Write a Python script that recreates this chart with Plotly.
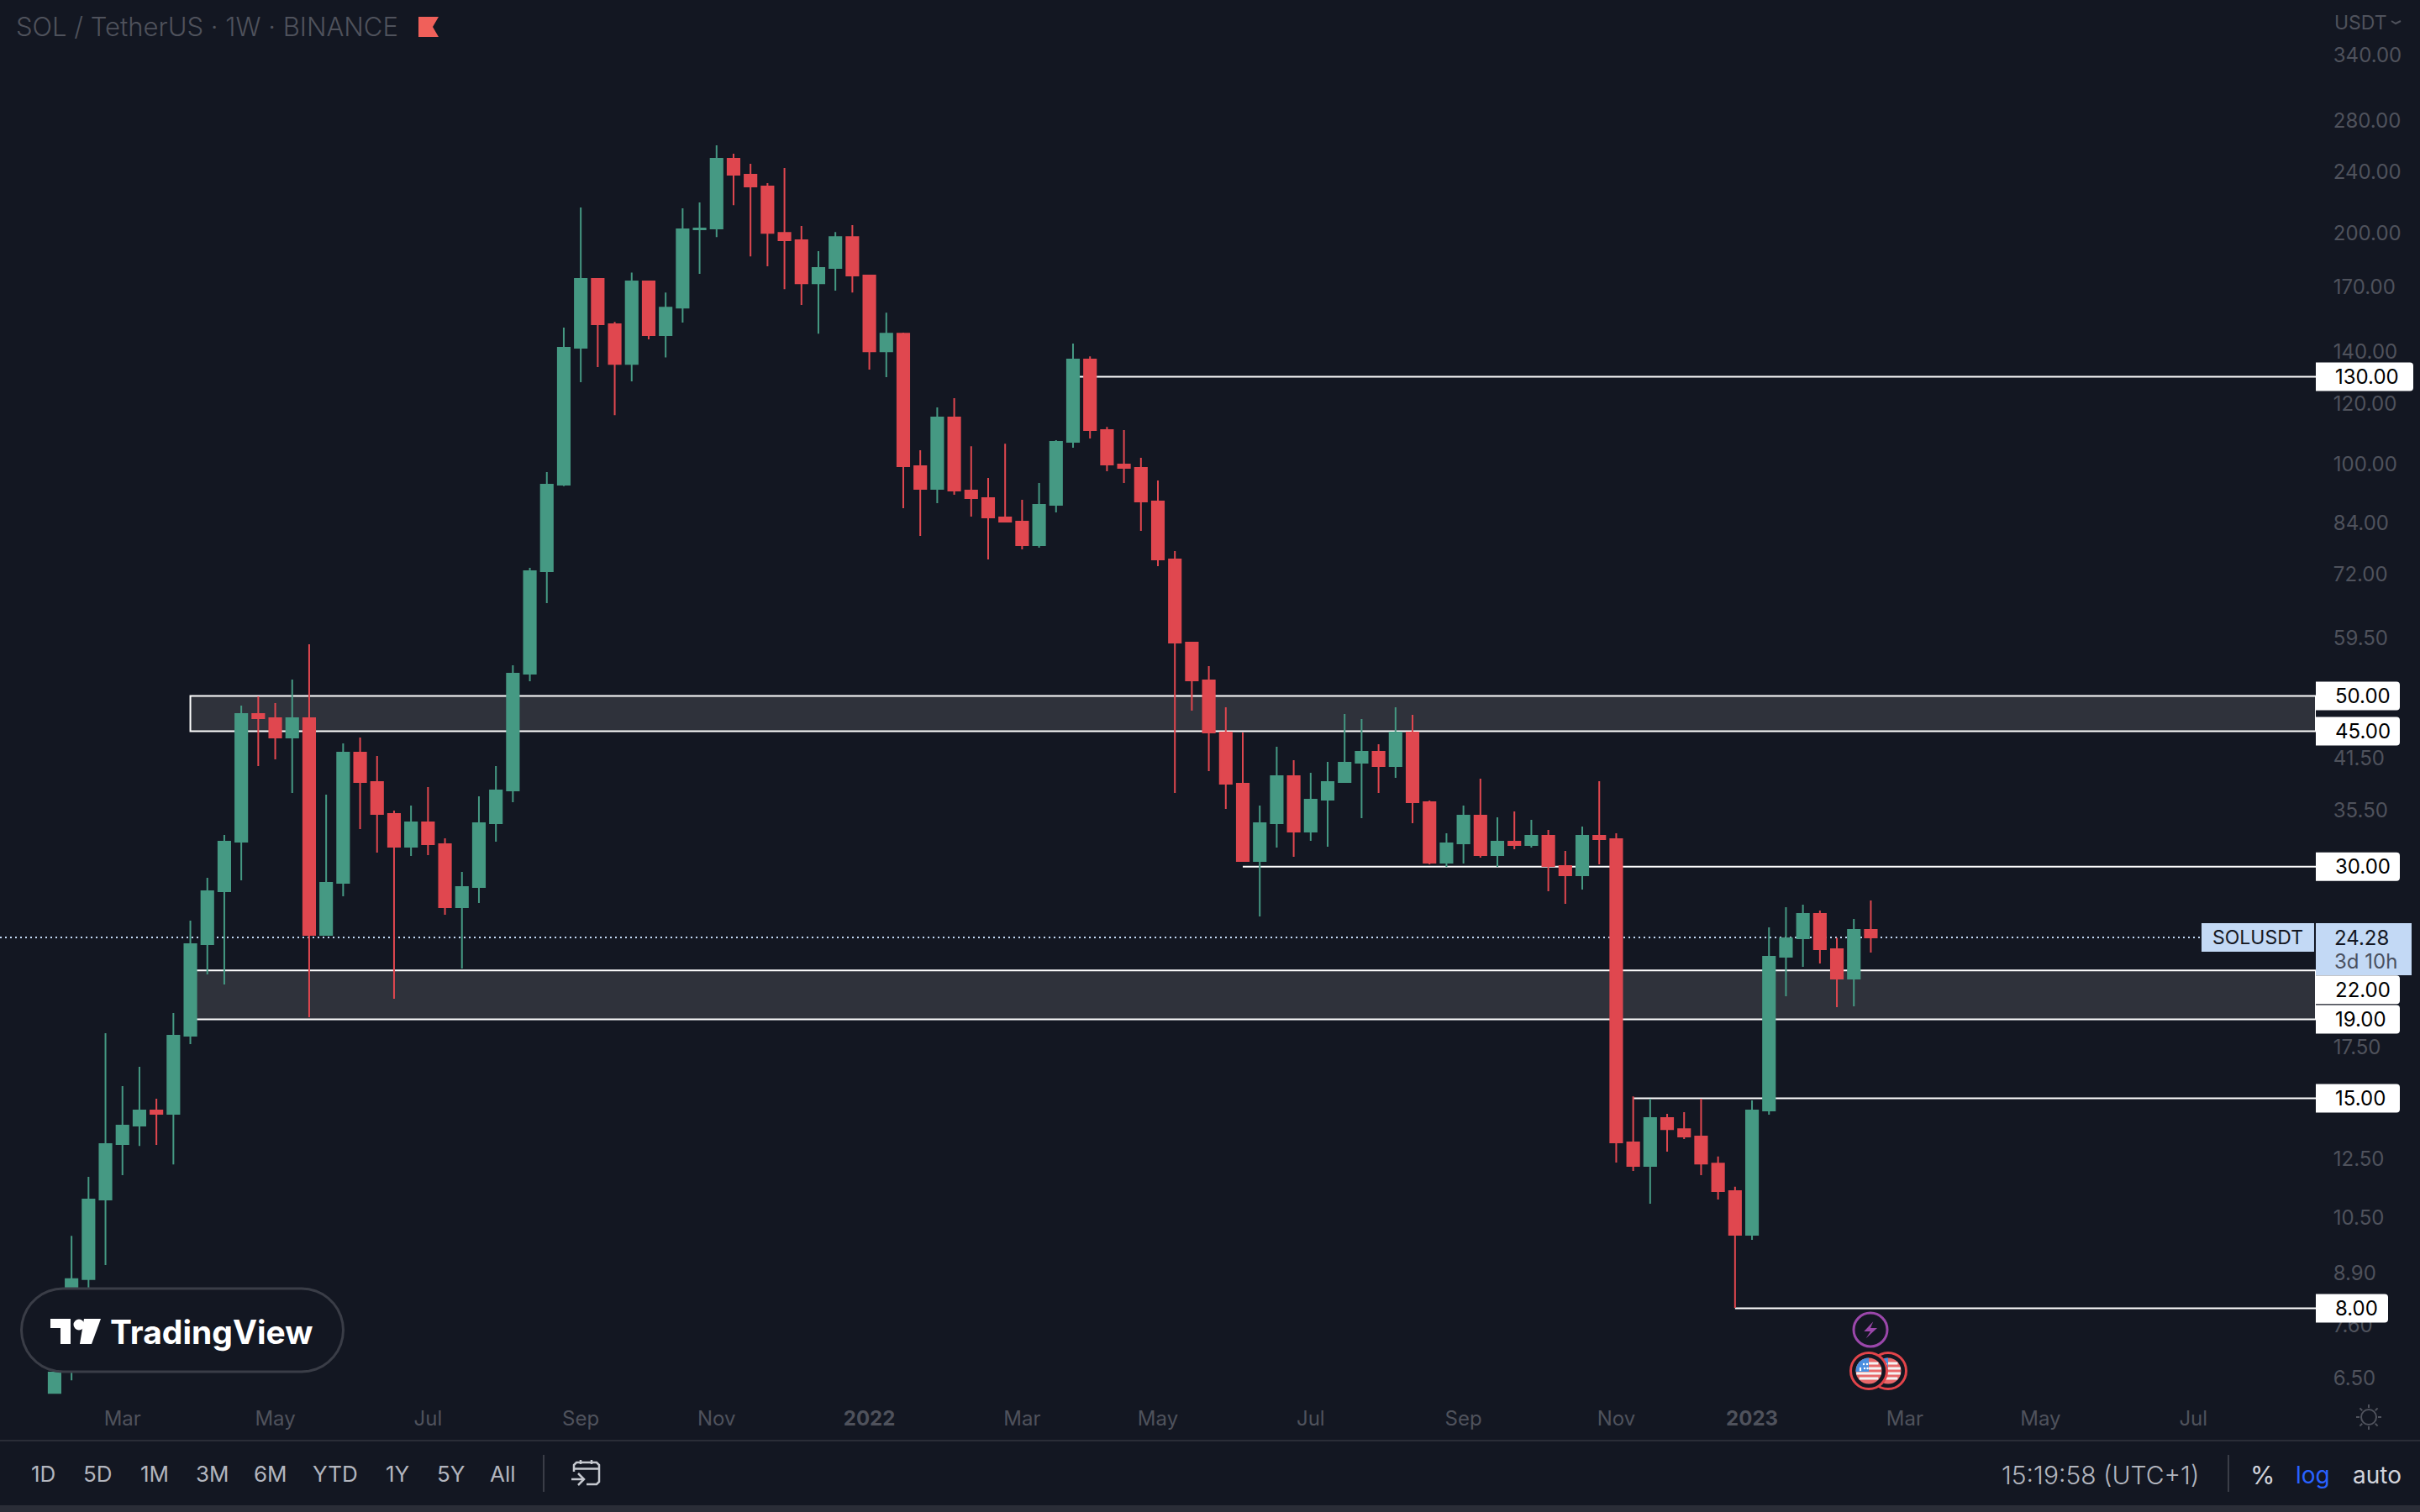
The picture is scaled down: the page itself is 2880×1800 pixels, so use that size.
import math
import pandas as pd
import plotly.graph_objects as go

# Weekly SOL/USDT candles (each open is the previous close)
dates = pd.date_range("2021-02-01", periods=108, freq="7D")

closes = [7.19,8.73,11.08,13.08,13.82,14.46,14.32,18.09,23.79,27.87,32.33,47.38,46.78,44.16,46.78,24.46,28.58,42.2,38.65,35.13,
          31.85,34.25,32.09,26.57,28.23,34.17,37.69,53.45,72.64,94.1,141.8,174.2,152.1,135.1,172.9,147.2,159.9,202.1,202.6,249.6,
          237.9,229.7,200.0,195.6,172.0,180.0,197.5,176.0,140.3,147.9,99.45,92.93,115.1,92.46,90.39,85.31,84.25,78.52,88.59,107.0,
          136.9,110.8,99.95,98.95,89.49,75.24,58.66,52.39,44.83,38.45,30.51,34.17,39.33,33.32,36.66,38.65,40.95,42.31,40.54,44.83,
          36.38,30.36,32.17,34.95,31.06,32.33,32.01,32.9,30.06,29.24,32.9,32.58,13.15,12.25,14.14,13.68,13.38,12.34,11.36,9.97,
          14.46,22.91,24.21,26.04,23.44,21.46,24.83,24.28]

opens = [6.21,7.19,8.73,11.08,13.08,13.82,14.46,14.32,18.09,23.79,27.87,32.33,47.38,46.78,44.16,46.78,24.46,28.58,42.2,38.65,
         35.13,31.85,34.25,32.09,26.57,28.23,34.17,37.69,53.45,72.64,94.1,141.8,174.2,152.1,135.1,172.9,147.2,159.9,202.1,202.6,
         249.6,237.9,229.7,200.0,195.6,172.0,180.0,197.5,176.0,140.3,147.9,99.45,92.93,115.1,92.46,90.39,85.31,84.25,78.52,88.59,
         107.0,136.9,110.8,99.95,98.95,89.49,75.24,58.66,52.39,44.83,38.45,30.51,34.17,39.33,33.32,36.66,38.65,40.95,42.31,40.54,
         44.83,36.38,30.36,32.17,34.95,31.06,32.33,32.01,32.9,30.06,29.24,32.9,32.58,13.15,12.25,14.14,13.68,13.38,12.34,11.36,
         9.97,14.46,22.91,24.21,26.04,23.44,21.46,24.83]

highs = [7.37,9.94,11.86,18.23,15.56,16.48,14.98,19.36,25.53,29.02,32.99,48.58,49.94,48.95,52.52,
         58.37,37.22,43.39,44.16,41.78,35.48,36.02,38.07,32.66,29.53,37.03,40.54,54.81,73.37,97.72,
         150.6,215.7,174.6,153.2,177.5,173.3,167.3,215.2,219.0,259.8,253.4,245.8,232.0,242.8,204.1,
         189.3,200.5,204.6,176.4,157.5,148.3,104.3,118.6,121.9,105.6,96.01,106.4,89.94,94.58,107.5,
         143.6,138.2,111.9,110.8,102.0,95.29,77.15,58.81,54.67,48.34,44.83,36.02,42.95,41.26,39.73,
         41.05,47.38,46.67,43.28,48.34,47.26,36.57,33.15,36.02,39.04,34.78,35.39,34.51,33.49,31.45,
         33.83,38.74,33.15,15.09,14.98,14.32,14.39,14.98,12.6,11.51,14.91,25.02,26.57,26.77,26.31,
         24.24,25.65,27.11]

lows = [6.21,6.45,8.36,9.11,11.92,13.01,13.05,12.31,17.64,21.73,21.09,28.8,40.54,41.36,37.41,
        19.12,24.46,27.46,33.57,31.29,20.2,30.98,31.06,25.98,22.12,26.91,32.33,36.38,52.26,66.02,
        93.72,127.9,133.8,115.9,128.2,145.4,137.7,152.9,176.9,197.5,217.3,186.4,180.9,169.0,161.2,
        147.9,168.2,167.3,132.8,129.8,87.71,80.72,89.04,91.31,85.53,75.24,84.04,77.54,77.93,86.61,
        105.1,108.1,97.96,94.58,81.95,73.74,37.41,47.85,39.93,35.66,30.51,25.85,31.77,30.9,32.41,
        31.85,38.55,34.69,37.41,39.14,34.17,30.21,29.98,30.28,30.82,29.98,31.61,31.77,27.87,26.84,
        28.01,30.21,12.38,12.07,10.94,12.79,13.28,11.92,11.08,8.01,9.82,14.28,20.36,22.23,22.45,
        19.7,19.75,23.2]

# Price axis ticks and month ticks
price_ticks = [340, 280, 240, 200, 170, 140, 120, 100, 84, 72, 59.5, 41.5, 35.5, 17.5, 12.5, 10.5, 8.9, 7.6, 6.5]
month_ticks = ["2021-03-01","2021-05-03","2021-07-05","2021-09-06","2021-11-01","2022-01-03","2022-03-07","2022-05-02",
               "2022-07-04","2022-09-05","2022-11-07","2023-01-02","2023-03-06","2023-05-01","2023-07-03"]
month_labels = ["Mar","May","Jul","Sep","Nov","<b>2022</b>","Mar","May","Jul","Sep","Nov","<b>2023</b>","Mar","May","Jul"]

# Drawn levels: price, index of the candle the line starts from
level_lines = [(130, 60), (30, 70), (15, 93), (8, 99)]
zones = [(45, 50, 8), (19, 22, 8)]
# price, label shift in px, box width
level_labels = [(130, 0, 116), (50, 0, 100), (45, 0, 100), (30, 0, 100), (22, -23, 100), (19, 0, 100), (15, 0, 100), (8, 0, 86)]
last_price = 24.28

BG = "#131722"
GREEN = "#459983"
RED = "#e0474f"
MUTED = "#4f525c"
WHITE = "#ffffff"
FONT = "Inter"
PLOT_W = 2756
PLOT_H = 1665
X_END = "2023-08-22 12:00"


def px(x):
    return x / PLOT_W


def py(y):
    return 1 - y / PLOT_H


def text(fig, x, y, s, size, color, anchor="left", weight=None):
    fig.add_annotation(x=px(x), y=py(y), xref="paper", yref="paper", text=s, showarrow=False,
                       xanchor=anchor, yanchor="middle", borderpad=0,
                       font=dict(family=FONT, size=size, color=color, weight=weight))


def pxshape(fig, path, fill=None, line=None, lw=0):
    fig.add_shape(type="path", path=path, xref="paper", yref="paper", layer="above",
                  fillcolor=fill if fill else "rgba(0,0,0,0)",
                  line=dict(color=line if line else "rgba(0,0,0,0)", width=lw))


def poly(points, close=True):
    s = "M " + " L ".join(f"{px(x):.5f},{py(y):.5f}" for x, y in points)
    return s + (" Z" if close else "")


def circle(fig, cx, cy, r, fill=None, line=None, lw=0):
    fig.add_shape(type="circle", xref="paper", yref="paper", layer="above",
                  x0=px(cx - r), x1=px(cx + r), y0=py(cy + r), y1=py(cy - r),
                  fillcolor=fill if fill else "rgba(0,0,0,0)",
                  line=dict(color=line if line else "rgba(0,0,0,0)", width=lw))


def flag(fig, cx, cy):
    # little US flag in a red ring
    circle(fig, cx, cy, 21.5, fill=BG, line="#e2444a", lw=3)
    r = 15.5
    circle(fig, cx, cy, r, fill="#e8686a")
    for k in [-9, -3, 3, 9]:
        dy = k + 0.0
        half = math.sqrt(max(r * r - (abs(dy) + 1.5) ** 2, 0))
        pxshape(fig, poly([(cx - half, cy + dy - 1.5), (cx + half, cy + dy - 1.5),
                           (cx + half, cy + dy + 1.5), (cx - half, cy + dy + 1.5)]), fill="#f4f4f4")
    blue = [(cx, cy - r), (cx, cy + 1), (cx - math.sqrt(r * r - 1), cy + 1)]
    for a in range(180, 271, 15):
        blue.append((cx + r * math.cos(math.radians(a)), cy + r * math.sin(math.radians(a))))
    pxshape(fig, poly(blue), fill="#4a8fe0")
    for dx, dy in [(-10, -3), (-5, -3), (-1.5, -3), (-6, -8), (-2, -8), (-10, -1)]:
        circle(fig, cx + dx, cy + dy, 1.2, fill="#ffffff")


fig = go.Figure()

fig.add_trace(go.Candlestick(
    x=dates, open=opens, high=highs, low=lows, close=closes,
    increasing=dict(line=dict(color=GREEN, width=2), fillcolor=GREEN),
    decreasing=dict(line=dict(color=RED, width=2), fillcolor=RED),
    hoverinfo="skip",
))

# Zones and level lines stay under the candles
for low, high, start in zones:
    fig.add_shape(type="rect", xref="x", yref="y", x0=dates[start], x1=X_END, y0=low, y1=high,
                  fillcolor="#2f323b", line=dict(color=WHITE, width=2), layer="below")
for price, start in level_lines:
    fig.add_shape(type="line", xref="x", yref="y", x0=dates[start], x1=X_END, y0=price, y1=price,
                  line=dict(color=WHITE, width=2), layer="below")
fig.add_shape(type="line", xref="paper", yref="y", x0=0, x1=px(2620), y0=last_price, y1=last_price,
              line=dict(color="#c3d9f5", width=2, dash="2px,4px"), layer="below")

# Price labels of the levels
for price, shift, w in level_labels:
    c = shift
    fig.add_shape(type="path", xref="paper", yref="y", xsizemode="pixel", ysizemode="pixel",
                  xanchor=1, yanchor=price, layer="above", fillcolor=WHITE, line=dict(width=0),
                  path=f"M 0,{c-17} H {w-4} Q {w},{c-17} {w},{c-13} V {c+13} Q {w},{c+17} {w-4},{c+17} H 0 Z")
    fig.add_annotation(x=px(2777), y=math.log10(price), xref="paper", yref="y", yshift=shift, text=f"{price:.2f}",
                       showarrow=False, xanchor="left", yanchor="middle",
                       font=dict(family=FONT, size=24, color="#000000"))

# Last price labels
fig.add_shape(type="path", xref="paper", yref="paper", layer="above", fillcolor="#c3d9f5", line=dict(width=0),
              path=poly([(2620, 1099), (2754, 1099), (2754, 1133), (2620, 1133)]))
fig.add_shape(type="path", xref="paper", yref="paper", layer="above", fillcolor="#c3d9f5", line=dict(width=0),
              path=poly([(2756, 1099), (2870, 1099), (2870, 1161), (2756, 1161)]))
text(fig, 2632, 1116, "SOLUSDT", 23, "#131722")
text(fig, 2777, 1116, "24.28", 24, "#131722")
text(fig, 2777, 1144, "3d 10h", 24, "#4a5160")

# Header
text(fig, 18, 32, "SOL / TetherUS · 1W · BINANCE", 31, MUTED, weight=300)
pxshape(fig, poly([(498, 20), (522, 20), (515, 32), (522, 44), (498, 44)]), fill="#f0605a")
text(fig, 2777, 27, "USDT", 23, MUTED)
pxshape(fig, poly([(2846, 25), (2851, 28), (2857, 25)], close=False), line=MUTED, lw=2)

# TradingView pill
fig.add_shape(type="rect", xref="paper", yref="paper", layer="above",
              x0=px(26), x1=px(408), y0=py(1633), y1=py(1534), fillcolor=BG, line=dict(width=0))
r = 49.5
arc_l = [(75 + r * math.cos(math.radians(a)), 1583.5 + r * math.sin(math.radians(a))) for a in range(270, 89, -10)]
arc_r = [(359 + r * math.cos(math.radians(a)), 1583.5 + r * math.sin(math.radians(a))) for a in range(90, -91, -10)]
pxshape(fig, poly(arc_l + arc_r), fill=BG, line="#3a3d47", lw=3)
pxshape(fig, poly([(60, 1570), (84, 1570), (84, 1600), (72, 1600), (72, 1581), (60, 1581)]), fill=WHITE)
circle(fig, 94, 1577, 6.5, fill=WHITE)
pxshape(fig, poly([(100, 1570), (120, 1570), (109, 1600), (95, 1600)]), fill=WHITE)
text(fig, 130, 1585, "TradingView", 39, WHITE, weight=700)

# Session / event marks
circle(fig, 2226, 1583, 20, line="#9b47ab", lw=3)
pxshape(fig, poly([(2229.3, 1573.3), (2218.3, 1585), (2226, 1585), (2220.7, 1593.3), (2234, 1581), (2226, 1581)]), fill="#9b47ab")
flag(fig, 2247, 1632)
flag(fig, 2224, 1632)

# Bottom toolbar
fig.add_shape(type="line", xref="paper", yref="paper", x0=0, x1=px(2880), y0=py(1715), y1=py(1715),
              line=dict(color="#2a2d37", width=2))
fig.add_shape(type="rect", xref="paper", yref="paper", x0=0, x1=px(2880), y0=py(1800), y1=py(1792),
              fillcolor="#2a2d37", line=dict(width=0))
ranges = ["1D", "5D", "1M", "3M", "6M", "YTD", "1Y", "5Y", "All"]
range_x = [51, 116, 184, 253, 322, 399, 473, 536, 598]
for s, x in zip(ranges, range_x):
    text(fig, x, 1755, s, 26, "#b2b5be", anchor="center")
for x in [647, 2652]:
    fig.add_shape(type="line", xref="paper", yref="paper", x0=px(x), x1=px(x), y0=py(1732), y1=py(1776),
                  line=dict(color="#3a3d47", width=2))
# range icon
ICON = "#c5c8cf"
pxshape(fig, poly([(683, 1752), (683, 1744), (686, 1741), (710, 1741), (713, 1744), (713, 1764), (710, 1767), (698, 1767)], close=False), line=ICON, lw=2.5)
pxshape(fig, poly([(683, 1748.5), (713, 1748.5)], close=False), line=ICON, lw=2.5)
pxshape(fig, poly([(691, 1738), (691, 1743)], close=False), line=ICON, lw=2.5)
pxshape(fig, poly([(704, 1738), (704, 1743)], close=False), line=ICON, lw=2.5)
pxshape(fig, poly([(680, 1761), (695, 1761)], close=False), line=ICON, lw=2.5)
pxshape(fig, poly([(688, 1754), (695, 1761), (688, 1768)], close=False), line=ICON, lw=2.5)

text(fig, 2381, 1756, "15:19:58 (UTC+1)", 30, "#b2b5be", weight=300)
text(fig, 2692, 1756, "%", 30, "#d1d4dc", anchor="center")
text(fig, 2752, 1756, "log", 28, "#2962ff", anchor="center")
text(fig, 2829, 1756, "auto", 28, "#d1d4dc", anchor="center")

# Sun icon next to the time axis
circle(fig, 2819, 1687, 9, line=MUTED, lw=2)
for a in range(0, 360, 45):
    c, s = math.cos(math.radians(a)), math.sin(math.radians(a))
    pxshape(fig, poly([(2819 + 11 * c, 1687 + 11 * s), (2819 + 15 * c, 1687 + 15 * s)], close=False), line=MUTED, lw=2)

fig.update_layout(
    width=2880, height=1800,
    margin=dict(l=0, r=2880 - PLOT_W, t=0, b=1800 - PLOT_H, pad=0),
    paper_bgcolor=BG, plot_bgcolor=BG,
    showlegend=False,
    boxgap=0.3, boxgroupgap=0,
    font=dict(family=FONT),
    xaxis=dict(type="date", range=["2021-01-09 12:00", X_END], rangeslider=dict(visible=False),
               tickmode="array", tickvals=month_ticks, ticktext=month_labels, showgrid=False, zeroline=False,
               showline=False, ticks="outside", ticklen=2, tickcolor="rgba(0,0,0,0)",
               tickfont=dict(family=FONT, size=24, color=MUTED)),
    yaxis=dict(type="log", side="right", range=[0.7858, 2.6036], tickmode="array", tickvals=price_ticks,
               ticktext=[f"{p:.2f}" for p in price_ticks], showgrid=False, zeroline=False, showline=False,
               ticks="outside", ticklen=15, tickcolor="rgba(0,0,0,0)",
               tickfont=dict(family=FONT, size=24, color=MUTED)),
)

# the page's default body margin would push the chart off by 8px
fig.write_html("out.html", config={"displayModeBar": False},
               post_script="document.documentElement.style.margin='0';document.body.style.margin='0';document.body.style.background='#131722';")
